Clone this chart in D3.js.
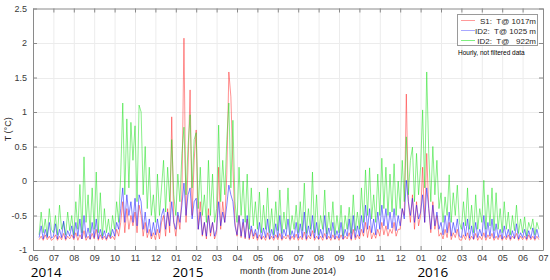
<!DOCTYPE html>
<html><head><meta charset="utf-8">
<script src="https://cdn.jsdelivr.net/npm/d3@7"></script>
<style>html,body{margin:0;padding:0;background:#fff;}svg{display:block;}</style>
</head><body>
<svg id="c" width="550" height="280"></svg>
<script>
// Month tick labels (June 2014 .. July 2016)
const monthLabels = ["06","07","08","09","10","11","12","01","02","03","04","05","06","07","08","09","10","11","12","01","02","03","04","05","06","07"];
const yTicks = [-1,-0.5,0,0.5,1,1.5,2,2.5];
const yearLabels = [{t:"2014", m:0.65},{t:"2015", m:7.6},{t:"2016", m:19.6}];
const seriesNames = ["S1:  T@ 1017m","ID2:  T@ 1025 m","ID2:  T@   922m"];

// values every ~3 days, one row per month (first row starts June 10, 2014)
const redS1 = [
 [-0.85,-0.8,-0.86,-0.78,-0.85,-0.8,-0.86],
 [-0.84,-0.78,-0.86,-0.8,-0.85,-0.76,-0.86,-0.8,-0.84,-0.78],
 [-0.85,-0.75,-0.86,-0.78,-0.84,-0.72,-0.86,-0.8,-0.85,-0.76],
 [-0.84,-0.7,-0.86,-0.78,-0.85,-0.8,-0.86,-0.78,-0.84,-0.8],
 [-0.85,-0.7,-0.8,-0.6,-0.3,-0.75,-0.4,-0.7,-0.5,-0.65],
 [-0.45,-0.75,-0.35,-0.5,-0.8,-0.6,-0.82,-0.7,-0.84,-0.75],
 [-0.85,-0.7,-0.84,-0.6,-0.5,-0.8,-0.4,-0.75,0.93,-0.6],
 [-0.8,-0.5,-0.7,-0.2,2.07,-0.6,0.2,1.32,-0.5,0.3],
 [0.74,-0.7,-0.3,-0.8,-0.6,-0.84,-0.4,-0.8,-0.6,-0.84],
 [-0.75,0.2,-0.7,-0.3,-0.6,0.1,1.58,1.22,0.2,-0.6],
 [-0.8,-0.5,-0.82,-0.6,-0.84,-0.55,-0.85,-0.7,-0.84,-0.75],
 [-0.86,-0.78,-0.85,-0.8,-0.86,-0.75,-0.85,-0.8,-0.86,-0.78],
 [-0.85,-0.76,-0.86,-0.8,-0.84,-0.78,-0.86,-0.8,-0.85,-0.77],
 [-0.86,-0.8,-0.85,-0.74,-0.86,-0.79,-0.84,-0.72,-0.86,-0.8],
 [-0.85,-0.8,-0.86,-0.76,-0.85,-0.8,-0.86,-0.78,-0.85,-0.8],
 [-0.86,-0.78,-0.85,-0.8,-0.84,-0.75,-0.86,-0.7,-0.85,-0.78],
 [-0.84,-0.7,-0.8,-0.6,-0.82,-0.65,-0.84,-0.75,-0.83,-0.7],
 [-0.8,-0.6,-0.78,-0.65,-0.8,-0.7,-0.76,-0.6,-0.8,-0.7],
 [-0.7,-0.4,-0.5,1.26,-0.3,-0.6,-0.2,-0.7,-0.3,-0.65],
 [-0.5,0.2,-0.6,0.4,-0.4,-0.75,-0.3,-0.7,-0.5,-0.8],
 [-0.75,-0.84,-0.7,-0.82,-0.6,-0.85,-0.75,-0.82,-0.7,-0.85],
 [-0.86,-0.78,-0.85,-0.75,-0.86,-0.8,-0.85,-0.76,-0.86,-0.8],
 [-0.85,-0.75,-0.86,-0.78,-0.84,-0.76,-0.86,-0.8,-0.85,-0.78],
 [-0.86,-0.8,-0.85,-0.78,-0.86,-0.8,-0.84,-0.76,-0.86,-0.8],
 [-0.85,-0.8,-0.86,-0.78,-0.85,-0.8,-0.86,-0.8,-0.85]
];
const blueID2deep = [
 [-0.82,-0.65,-0.84,-0.7,-0.82,-0.6,-0.83],
 [-0.8,-0.62,-0.84,-0.7,-0.82,-0.58,-0.84,-0.72,-0.8,-0.65],
 [-0.83,-0.6,-0.8,-0.55,-0.84,-0.5,-0.82,-0.68,-0.84,-0.6],
 [-0.82,-0.55,-0.84,-0.7,-0.83,-0.72,-0.84,-0.75,-0.82,-0.7],
 [-0.8,-0.6,-0.7,-0.4,-0.1,-0.6,-0.2,-0.5,-0.3,-0.6],
 [-0.25,-0.65,-0.2,-0.3,-0.7,-0.45,-0.75,-0.55,-0.8,-0.6],
 [-0.78,-0.55,-0.75,-0.5,-0.4,-0.7,-0.45,-0.65,-0.3,-0.6],
 [-0.7,-0.45,-0.6,-0.35,-0.03,-0.5,-0.2,-0.1,-0.55,-0.3],
 [-0.25,-0.7,-0.45,-0.78,-0.6,-0.8,-0.5,-0.75,-0.6,-0.8],
 [-0.7,-0.3,-0.65,-0.45,-0.6,-0.35,-0.06,-0.2,-0.3,-0.65],
 [-0.78,-0.5,-0.8,-0.55,-0.82,-0.5,-0.83,-0.65,-0.8,-0.7],
 [-0.83,-0.6,-0.84,-0.68,-0.82,-0.55,-0.84,-0.7,-0.83,-0.62],
 [-0.82,-0.5,-0.84,-0.7,-0.8,-0.55,-0.84,-0.72,-0.82,-0.6],
 [-0.83,-0.62,-0.82,-0.45,-0.84,-0.65,-0.8,-0.5,-0.83,-0.6],
 [-0.84,-0.7,-0.82,-0.5,-0.84,-0.68,-0.83,-0.6,-0.84,-0.72],
 [-0.83,-0.6,-0.84,-0.7,-0.8,-0.55,-0.84,-0.5,-0.82,-0.65],
 [-0.8,-0.5,-0.75,-0.35,-0.7,-0.4,-0.75,-0.55,-0.78,-0.45],
 [-0.7,-0.35,-0.65,-0.4,-0.7,-0.45,-0.68,-0.4,-0.72,-0.5],
 [-0.65,-0.4,-0.55,0.01,-0.3,-0.5,-0.25,-0.6,-0.35,-0.55],
 [-0.45,-0.2,-0.6,-0.1,-0.4,-0.7,-0.35,-0.65,-0.45,-0.7],
 [-0.6,-0.78,-0.5,-0.75,-0.45,-0.8,-0.6,-0.75,-0.55,-0.8],
 [-0.82,-0.6,-0.8,-0.55,-0.83,-0.65,-0.84,-0.6,-0.82,-0.7],
 [-0.8,-0.5,-0.82,-0.6,-0.8,-0.55,-0.83,-0.62,-0.82,-0.7],
 [-0.84,-0.65,-0.82,-0.7,-0.84,-0.72,-0.83,-0.62,-0.84,-0.75],
 [-0.82,-0.7,-0.84,-0.72,-0.83,-0.68,-0.84,-0.7,-0.82]
];
const greenID2shallow = [
 [-0.78,-0.45,-0.75,-0.55,-0.8,-0.4,-0.7],
 [-0.75,-0.5,-0.78,-0.35,-0.7,-0.6,-0.78,-0.45,-0.72,-0.5],
 [-0.78,-0.3,-0.7,-0.05,-0.75,0.35,-0.6,-0.2,-0.75,-0.1],
 [-0.7,0.13,-0.75,-0.17,-0.8,-0.4,-0.75,-0.55,-0.8,-0.5],
 [-0.7,-0.3,-0.6,0.1,1.13,-0.2,0.9,-0.1,0.85,0.3],
 [0.8,-0.3,1.1,1.0,-0.2,0.5,-0.4,0.2,-0.5,-0.2],
 [-0.6,0.1,-0.5,-0.1,0.3,-0.45,0.2,-0.3,0.6,-0.2],
 [-0.5,0.1,-0.3,0.4,0.78,-0.2,0.5,0.96,-0.1,0.6],
 [0.7,-0.4,0.2,-0.5,-0.2,-0.6,0.3,-0.5,0.1,-0.6],
 [-0.4,0.81,-0.3,0.3,-0.2,0.6,1.13,-0.1,0.88,-0.3],
 [-0.6,0.2,-0.5,0.0,-0.6,0.1,-0.7,-0.1,-0.65,-0.3],
 [-0.7,-0.16,-0.75,-0.35,-0.7,-0.1,-0.75,-0.4,-0.78,-0.3],
 [-0.72,-0.13,-0.76,-0.45,-0.7,-0.1,-0.78,-0.5,-0.7,-0.35],
 [-0.75,-0.3,-0.72,-0.03,-0.76,-0.4,-0.7,0.13,-0.75,-0.2],
 [-0.78,-0.5,-0.7,-0.13,-0.77,-0.45,-0.72,-0.3,-0.78,-0.5],
 [-0.75,-0.35,-0.8,-0.5,-0.7,-0.38,-0.76,-0.2,-0.72,-0.45],
 [-0.7,-0.1,-0.6,0.16,-0.5,0.19,-0.55,-0.2,-0.6,0.1],
 [-0.5,0.33,-0.4,0.2,-0.5,0.1,-0.45,0.25,-0.5,0.0],
 [-0.4,0.3,-0.3,0.64,-0.2,0.3,0.49,-0.3,0.4,-0.2],
 [0.2,1.03,-0.1,1.58,0.4,-0.3,0.5,-0.2,0.3,-0.4],
 [-0.17,-0.6,-0.23,-0.5,0.09,-0.6,-0.17,-0.5,-0.06,-0.6],
 [-0.7,-0.3,-0.65,-0.1,-0.7,-0.35,-0.75,-0.2,-0.7,-0.4],
 [-0.6,0.01,-0.7,-0.2,-0.65,-0.1,-0.72,-0.17,-0.7,-0.4],
 [-0.75,-0.3,-0.7,-0.45,-0.78,-0.5,-0.72,-0.35,-0.76,-0.55],
 [-0.75,-0.52,-0.8,-0.6,-0.7,-0.55,-0.78,-0.6,-0.7]
];

function toPoints(rows){
  const pts=[];
  rows.forEach((row,i)=>{
    const off = i===0 ? 3 : 0;
    row.forEach((v,k)=>pts.push({t:i+(k+off)/10, v}));
  });
  return pts;
}

const svg = d3.select("#c");
const L=33, R=543, T=8.5, B=250;
const x = d3.scaleLinear().domain([0,25]).range([L,R]);
const y = d3.scaleLinear().domain([-1,2.5]).range([B,T]);

// grid
const g = svg.append("g");
g.selectAll(".vg").data(d3.range(1,25)).join("line")
  .attr("x1",d=>x(d)+0.5).attr("x2",d=>x(d)+0.5).attr("y1",T).attr("y2",B)
  .attr("stroke","#ececec").attr("stroke-width",1);
g.selectAll(".hg").data(yTicks.filter(d=>d!==-1 && d!==2.5 && d!==0)).join("line")
  .attr("x1",L).attr("x2",R).attr("y1",d=>Math.round(y(d))+0.5).attr("y2",d=>Math.round(y(d))+0.5)
  .attr("stroke","#ececec").attr("stroke-width",1);
g.append("line").attr("x1",L).attr("x2",R).attr("y1",Math.round(y(0))+0.5).attr("y2",Math.round(y(0))+0.5)
  .attr("stroke","#c4c4c4").attr("stroke-width",1);

// series
const line = d3.line().x(d=>x(d.t)).y(d=>y(d.v));
const series = [
  {rows:redS1, color:"#ff2020", op:0.7},
  {rows:greenID2shallow, color:"#1fe01f", op:0.75},
  {rows:blueID2deep, color:"#1010ff", op:0.75}
];
const plot = svg.append("g");
series.forEach(s=>{
  plot.append("path").datum(toPoints(s.rows)).attr("d",line)
    .attr("fill","none").attr("stroke",s.color).attr("stroke-opacity",s.op)
    .attr("stroke-width",0.7).attr("stroke-linejoin","round");
});

// axes (MATLAB style, inward ticks, box)
const axColor="#8a8a8a";
const xAxis = d3.axisBottom(x).tickValues(d3.range(0,26)).tickFormat(i=>monthLabels[i]).tickSizeInner(-4).tickSizeOuter(0).tickPadding(5);
const gx = svg.append("g").attr("transform",`translate(0,${B})`).call(xAxis);
const xTop = d3.axisTop(x).tickValues(d3.range(0,26)).tickFormat("").tickSizeInner(-4).tickSizeOuter(0);
const gxt = svg.append("g").attr("transform",`translate(0,${T})`).call(xTop);
const yAxis = d3.axisLeft(y).tickValues(yTicks).tickFormat(d=>String(d)).tickSizeInner(-4).tickSizeOuter(0).tickPadding(6);
const gy = svg.append("g").attr("transform",`translate(${L},0)`).call(yAxis);
const yRight = d3.axisRight(y).tickValues(yTicks).tickFormat("").tickSizeInner(-4).tickSizeOuter(0);
const gyr = svg.append("g").attr("transform",`translate(${R},0)`).call(yRight);
[gx,gxt,gy,gyr].forEach(a=>{
  a.selectAll("path").attr("stroke",axColor);
  a.selectAll("line").attr("stroke",axColor);
  a.selectAll("text").attr("fill","#3a3a3a").style("font-family","'Liberation Sans',Arial,sans-serif").style("font-size","9px");
});

// axis labels
svg.append("text").attr("x",288).attr("y",274).attr("text-anchor","middle")
  .style("font-family","'Liberation Sans',Arial,sans-serif").style("font-size","9px").attr("fill","#262626")
  .text("month (from June 2014)");
svg.append("text").attr("transform",`translate(11,${(T+B)/2}) rotate(-90)`).attr("text-anchor","middle")
  .style("font-family","'Liberation Sans',Arial,sans-serif").style("font-size","9px").attr("fill","#262626")
  .text("T (°C)");
svg.selectAll(".yr").data(yearLabels).join("text")
  .attr("x",d=>x(d.m)).attr("y",276.5).attr("text-anchor","middle")
  .style("font-family","'Open Sans',sans-serif").style("font-size","13.5px").attr("fill","#000")
  .text(d=>d.t);

// legend
const lg = svg.append("g");
lg.append("rect").attr("x",457.5).attr("y",14.5).attr("width",80).attr("height",31)
  .attr("fill","#fff").attr("stroke","#9a9a9a").attr("stroke-width",1);
const legColors = ["#ff9a9a","#a8a8ff","#7ff07f"];
seriesNames.forEach((n,i)=>{
  const yy = 20.5 + i*10;
  lg.append("line").attr("x1",461).attr("x2",475).attr("y1",yy).attr("y2",yy)
    .attr("stroke",legColors[i]).attr("stroke-width",1);
  lg.append("text").attr("x",536).attr("y",yy+3).attr("text-anchor","end")
    .style("font-family","'Liberation Sans',Arial,sans-serif").style("font-size","8px").attr("fill","#262626")
    .attr("xml:space","preserve").style("white-space","pre").text(n);
});
svg.append("text").attr("x",458).attr("y",55)
  .style("font-family","'Liberation Sans',Arial,sans-serif").style("font-size","6.5px").attr("fill","#000")
  .text("Hourly, not filtered data");
</script>
</body></html>
